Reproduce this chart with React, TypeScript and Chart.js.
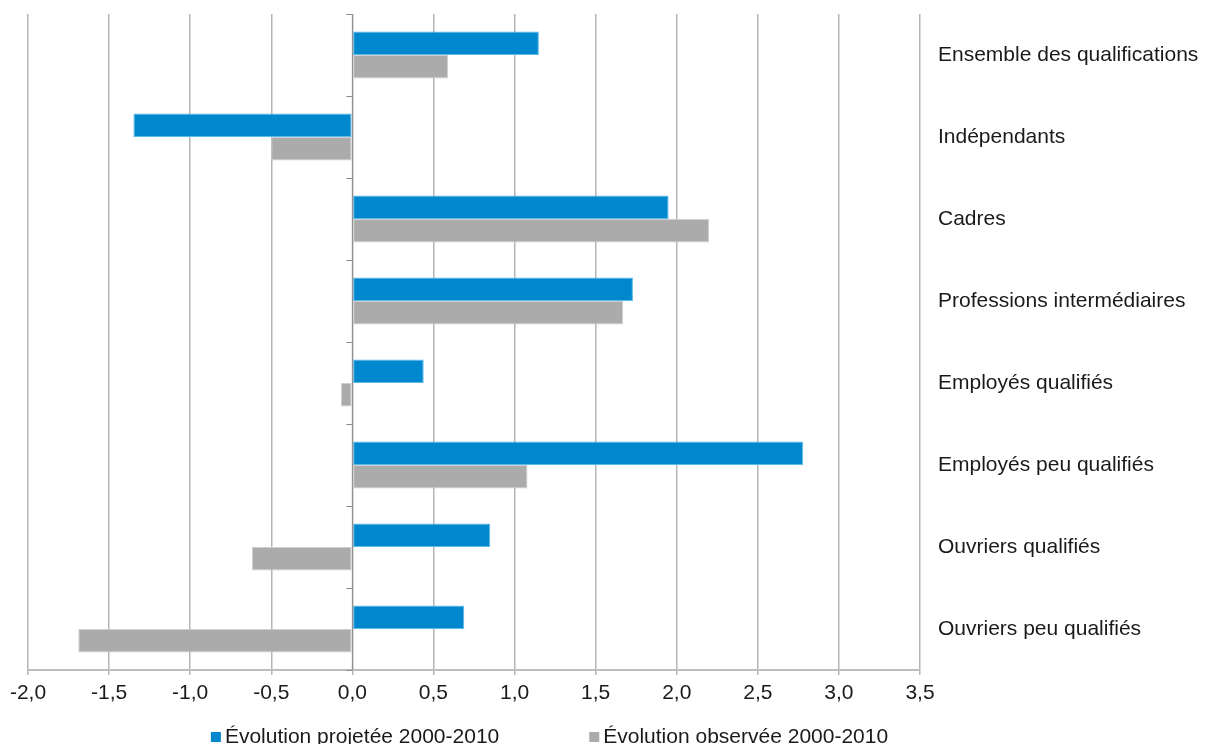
import React, { useEffect, useRef } from "react";
import { Chart, registerables } from "chart.js";

Chart.register(...registerables);

const categories = [
  "Ensemble des qualifications",
  "Indépendants",
  "Cadres",
  "Professions intermédiaires",
  "Employés qualifiés",
  "Employés peu qualifiés",
  "Ouvriers qualifiés",
  "Ouvriers peu qualifiés",
];
const projected = [1.15, -1.35, 1.95, 1.73, 0.44, 2.78, 0.85, 0.69];
const observed = [0.59, -0.5, 2.2, 1.67, -0.07, 1.08, -0.62, -1.69];
const seriesNames = ["Évolution projetée 2000-2010", "Évolution observée 2000-2010"];
const xMin = -2;
const xMax = 3.5;
const xStep = 0.5;

const FONT = '"Liberation Sans", Arial, sans-serif';
const FONT_SIZE = 21;
const TEXT = "#1a1a1a";
const GRID = "#b5b5b5";

const zeroAxisPlugin = {
  id: "zeroAxis",
  afterDatasetsDraw(chart: any) {
    const { ctx, chartArea, scales } = chart;
    const x0 = scales.x.getPixelForValue(0);
    ctx.save();
    ctx.strokeStyle = "#8c8c8c";
    ctx.lineWidth = 1;
    ctx.beginPath();
    ctx.moveTo(x0, chartArea.top);
    ctx.lineTo(x0, chartArea.bottom);
    for (let i = 0; i <= categories.length; i++) {
      const y = Math.round(scales.y.getPixelForValue(i - 0.5)) + 0.5;
      ctx.moveTo(x0 - 6, y);
      ctx.lineTo(x0, y);
    }
    ctx.stroke();
    ctx.restore();
  },
};

const legendPlugin = {
  id: "customLegend",
  afterDraw(chart: any) {
    const { ctx, chartArea } = chart;
    const ds = chart.data.datasets;
    ctx.save();
    ctx.font = `${FONT_SIZE}px ${FONT}`;
    ctx.textBaseline = "middle";
    const box = 10;
    const gapBox = 4;
    const gapItems = 90;
    const widths = ds.map((d: any) => box + gapBox + ctx.measureText(d.label).width);
    const total = widths.reduce((a: number, b: number) => a + b, 0) + gapItems * (ds.length - 1);
    let x = chart.width / 2 - 54 - total / 2;
    const y = chartArea.bottom + 67;
    ds.forEach((d: any, i: number) => {
      ctx.fillStyle = d.backgroundColor;
      ctx.fillRect(x, y - box / 2, box, box);
      ctx.fillStyle = TEXT;
      ctx.textAlign = "left";
      ctx.fillText(d.label, x + box + gapBox, y);
      x += widths[i] + gapItems;
    });
    ctx.restore();
  },
};

export default function App() {
  const ref = useRef<HTMLCanvasElement | null>(null);

  useEffect(() => {
    if (!ref.current) return;
    const chart = new Chart(ref.current, {
      type: "bar",
      data: {
        labels: categories,
        datasets: [
          {
            label: seriesNames[0],
            data: projected,
            backgroundColor: "#0088ce",
            borderColor: "#5db8ea",
            borderWidth: 1,
            borderSkipped: false,
            barPercentage: 1,
            categoryPercentage: 0.575,
          },
          {
            label: seriesNames[1],
            data: observed,
            backgroundColor: "#ababab",
            borderColor: "#cfcfcf",
            borderWidth: 1,
            borderSkipped: false,
            barPercentage: 1,
            categoryPercentage: 0.575,
          },
        ],
      },
      options: {
        indexAxis: "y",
        animation: false,
        responsive: true,
        maintainAspectRatio: false,
        layout: { padding: { top: 14, left: 28, right: 0, bottom: 54 } },
        plugins: {
          legend: { display: false },
          tooltip: { enabled: false },
        },
        scales: {
          x: {
            type: "linear",
            min: xMin,
            max: xMax,
            afterFit: (s: any) => {
              s.height = 36;
            },
            ticks: {
              stepSize: xStep,
              padding: 6,
              color: TEXT,
              font: { family: FONT, size: FONT_SIZE },
              callback: (v: any) => Number(v).toFixed(1).replace(".", ","),
            },
            grid: {
              color: GRID,
              lineWidth: 1.5,
              drawTicks: true,
              tickLength: 5,
            },
            border: { display: true, color: "#bdbdbd", width: 2 },
          },
          y: {
            type: "category",
            position: "right",
            afterFit: (s: any) => {
              s.width = 287;
              s.paddingTop = 0;
              s.paddingBottom = 0;
            },
            ticks: {
              padding: 18,
              color: TEXT,
              font: { family: FONT, size: FONT_SIZE },
            },
            grid: { display: false, drawTicks: false },
            border: { display: false },
          },
        },
      },
      plugins: [zeroAxisPlugin, legendPlugin],
    });
    return () => chart.destroy();
  }, []);

  return (
    <div
      style={{
        position: "fixed",
        left: 0,
        top: 0,
        width: 1207,
        height: 744,
        overflow: "hidden",
        background: "#fff",
      }}
    >
      <div style={{ position: "relative", width: 1207, height: 760 }}>
        <canvas ref={ref} />
      </div>
    </div>
  );
}
